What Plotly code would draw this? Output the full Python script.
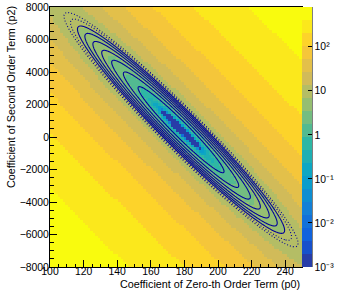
import numpy as np
import plotly.graph_objects as go

# ---- values ----
P0_BEST = 178.0        # best-fit p0
P2_BEST = 450.0        # best-fit p2
P0_SIGMA = 22.9        # 1-sigma of p0
P2_SIGMA = 2370.0      # 1-sigma of p2
RHO = -0.97            # correlation p0-p2
CHI2_SHIFT = 0.25      # offset of the plotted surface below its minimum

X_RANGE = [100, 250]
Y_RANGE = [-8000, 8000]
N_BINS_X = 100
N_BINS_Y = 100

Z_MIN = 1e-3
Z_MAX = 800.0
N_BANDS = 20

SOLID_LEVELS = [1, 2, 3, 4, 5, 6, 7]
DOTTED_LEVELS = [8, 9]

X_TICKS = [100, 120, 140, 160, 180, 200, 220, 240]
Y_TICKS = [-8000, -6000, -4000, -2000, 0, 2000, 4000, 6000, 8000]
Y_TICK_TEXT = ["\u22128000", "\u22126000", "\u22124000", "\u22122000", "0",
               "2000", "4000", "6000", "8000"]
CB_TICKS = [-3, -2, -1, 0, 1, 2]
CB_TEXT = ["10\u207b\u00b3", "10\u207b\u00b2", "10\u207b\u00b9", "1", "10", "10\u00b2"]

X_TITLE = "Coefficient of Zero-th Order Term (p0)"
Y_TITLE = "Coefficient of Second Order Term (p2)"

# ROOT kBird palette stops
BIRD_R = [0.2082, 0.0592, 0.0780, 0.0232, 0.1802, 0.5301, 0.8186, 0.9956, 0.9764]
BIRD_G = [0.1664, 0.3599, 0.5041, 0.6419, 0.7178, 0.7492, 0.7328, 0.7862, 0.9832]
BIRD_B = [0.5293, 0.8684, 0.8385, 0.7914, 0.6425, 0.4662, 0.3499, 0.1968, 0.0539]
LINE_COLOR = "#000099"

# layout in pixels
W, HGT = 342, 295
ML, MR, MT, MB = 50, 40, 7, 28
PW, PH = W - ML - MR, HGT - MT - MB
FONT = "Liberation Sans, Arial, sans-serif"


def bird(pos):
    stops = np.linspace(0, 1, len(BIRD_R))
    r = np.interp(pos, stops, BIRD_R)
    g = np.interp(pos, stops, BIRD_G)
    b = np.interp(pos, stops, BIRD_B)
    return "rgb(%d,%d,%d)" % (round(r * 255), round(g * 255), round(b * 255))


def surface(p0, p2):
    u = (p0 - P0_BEST) / P0_SIGMA
    v = (p2 - P2_BEST) / P2_SIGMA
    return (u * u - 2 * RHO * u * v + v * v) / (1 - RHO * RHO) - CHI2_SHIFT


# histogram bins
bx = (X_RANGE[1] - X_RANGE[0]) / N_BINS_X
by = (Y_RANGE[1] - Y_RANGE[0]) / N_BINS_Y
xc = X_RANGE[0] + bx * (np.arange(N_BINS_X) + 0.5)
yc = Y_RANGE[0] + by * (np.arange(N_BINS_Y) + 0.5)
XX, YY = np.meshgrid(xc, yc)
H = surface(XX, YY)
LZ = np.log10(np.clip(H, Z_MIN, Z_MAX))

lzmin, lzmax = np.log10(Z_MIN), np.log10(Z_MAX)
cs = []
for i in range(N_BANDS):
    idx = min(int((i + 0.99) * 255 / N_BANDS), 254)
    col = bird(idx / 254)
    cs.append([i / N_BANDS, col])
    cs.append([(i + 1) / N_BANDS, col])

# fine grid for contour lines
xf = np.linspace(X_RANGE[0], X_RANGE[1], 500)
yf = np.linspace(Y_RANGE[0], Y_RANGE[1], 500)
XF, YF = np.meshgrid(xf, yf)
DF = surface(XF, YF)

fig = go.Figure()
fig.add_trace(go.Heatmap(
    x=xc, y=yc, z=LZ, colorscale=cs, zmin=lzmin, zmax=lzmax,
    hoverinfo="skip",
    colorbar=dict(thickness=10, len=1, lenmode="fraction", y=0, yanchor="bottom",
                  ypad=0, x=1.0, xanchor="left", xpad=0, outlinewidth=0,
                  tickvals=CB_TICKS, ticktext=CB_TEXT, ticks="inside", ticklen=4,
                  tickcolor="black", tickfont=dict(size=10.4, color="black", family=FONT)),
))
fig.add_trace(go.Contour(
    x=xf, y=yf, z=DF, showscale=False, hoverinfo="skip",
    contours=dict(coloring="none", start=SOLID_LEVELS[0], end=SOLID_LEVELS[-1], size=1),
    line=dict(color=LINE_COLOR, width=1.1),
))
fig.add_trace(go.Contour(
    x=xf, y=yf, z=DF, showscale=False, hoverinfo="skip",
    contours=dict(coloring="none", start=DOTTED_LEVELS[0], end=DOTTED_LEVELS[-1], size=1),
    line=dict(color=LINE_COLOR, width=1.1, dash="1px,2px"),
))

# minor ticks of the log colour axis
shapes = []
cb_right = 1.0 + 10 / PW
for k in range(-3, 3):
    for m in range(2, 10):
        v = np.log10(m) + k
        if v < lzmax:
            yp = (v - lzmin) / (lzmax - lzmin)
            shapes.append(dict(type="line", xref="paper", yref="paper",
                               x0=cb_right - 2.2 / PW, x1=cb_right, y0=yp, y1=yp,
                               line=dict(color="black", width=1)))
shapes.append(dict(type="line", xref="paper", yref="paper", x0=cb_right, x1=cb_right,
                   y0=0, y1=1, line=dict(color="black", width=1)))

fig.update_layout(
    template="none",
    width=W, height=HGT,
    margin=dict(l=ML, r=MR, t=MT, b=MB, autoexpand=False),
    paper_bgcolor="white", plot_bgcolor="white",
    font=dict(family=FONT, size=10.4, color="black"),
    showlegend=False,
    shapes=shapes,
    xaxis=dict(range=X_RANGE, tickvals=X_TICKS, ticks="inside", ticklen=7,
               tickcolor="black", showline=True, linecolor="black", linewidth=1,
               mirror=True, showgrid=False, zeroline=False, automargin=False,
               tickfont=dict(size=10.4), ticklabelstandoff=-5,
               minor=dict(dtick=5, ticks="inside", ticklen=3.5, tickcolor="black",
                          showgrid=False)),
    yaxis=dict(range=Y_RANGE, tickvals=Y_TICKS, ticktext=Y_TICK_TEXT, ticks="inside",
               ticklen=7, tickcolor="black", showline=True, linecolor="black",
               linewidth=1, mirror=True, showgrid=False, zeroline=False,
               automargin=False, tickfont=dict(size=10.4), ticklabelstandoff=-2,
               minor=dict(dtick=500, ticks="inside", ticklen=3.5, tickcolor="black",
                          showgrid=False)),
    annotations=[
        dict(text=X_TITLE, xref="paper", yref="paper", x=1.0, y=-17 / PH,
             xanchor="right", yanchor="middle", showarrow=False,
             font=dict(size=10.8)),
        dict(text=Y_TITLE, xref="paper", yref="paper", x=-39 / PW, y=1.0 + 3 / PH,
             xanchor="center", yanchor="top", textangle=-90, showarrow=False,
             font=dict(size=10.8)),
    ],
)

fig.write_html("out.html", config={"displayModeBar": False},
               post_script="document.body.style.margin='0';"
                           "document.body.style.overflow='hidden';")
